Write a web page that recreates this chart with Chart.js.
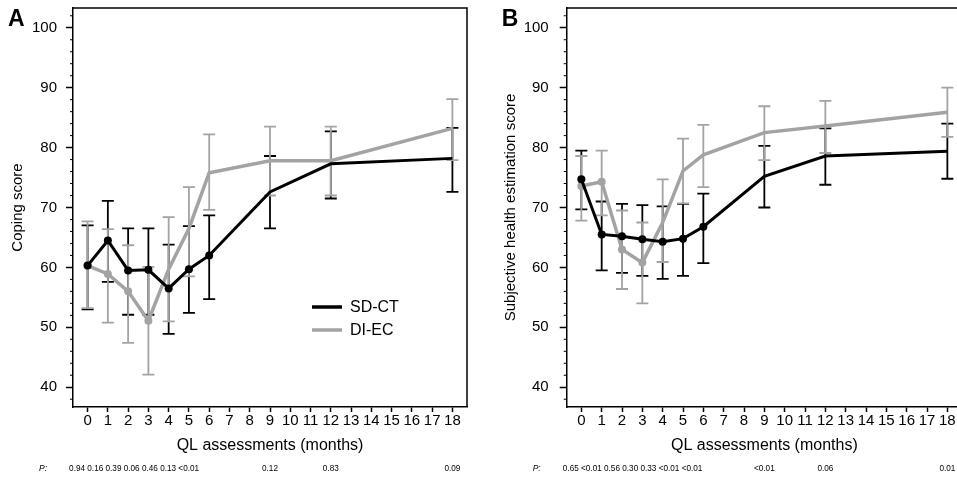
<!DOCTYPE html>
<html>
<head>
<meta charset="utf-8">
<script src="https://cdn.jsdelivr.net/npm/chart.js@4"></script>
<style>
  html, body { margin: 0; padding: 0; background: #fff; overflow: hidden; }
  body { width: 957px; height: 480px; position: relative; }
  .panel { position: absolute; top: 0; height: 480px; }
  #wrapA { left: 0; width: 478px; }
  #wrapB { left: 478px; width: 490px; }
</style>
</head>
<body>
<div class="panel" id="wrapA"><canvas id="chartA"></canvas></div>
<div class="panel" id="wrapB"><canvas id="chartB"></canvas></div>
<script>
const FONT = '"Liberation Sans", Arial, sans-serif';
const BLACK = '#000000';
const GREY = '#a3a3a3';

// months where QL was assessed
const months = [0, 1, 2, 3, 4, 5, 6, 9, 12, 18];
const monthTicks = [0, 1, 2, 3, 4, 5, 6, 7, 8, 9, 10, 11, 12, 13, 14, 15, 16, 17, 18];
const scoreTicks = [40, 50, 60, 70, 80, 90, 100];

// panel A - coping score
const copingSdct = [60.3, 64.5, 59.5, 59.6, 56.5, 59.7, 62.0, 72.6, 77.3, 78.2];
const copingSdctLow = [53.0, 57.6, 52.1, 52.1, 48.9, 52.4, 54.7, 66.5, 71.5, 72.6];
const copingSdctHigh = [67.0, 71.1, 66.5, 66.5, 63.8, 66.9, 68.7, 78.6, 82.7, 83.3];
const copingDiec = [60.3, 58.9, 56.0, 51.1, 59.7, 66.5, 75.8, 77.8, 77.8, 83.2];
const copingDiecLow = [53.2, 50.8, 47.4, 42.1, 51.0, 58.5, 69.6, 72.0, 72.0, 77.9];
const copingDiecHigh = [67.7, 66.4, 63.7, 60.1, 68.4, 73.4, 82.2, 83.5, 83.5, 88.1];
const copingP = ['0.94', '0.16', '0.39', '0.06', '0.46', '0.13', '<0.01', '0.12', '0.83', '0.09'];

// panel B - subjective health estimation score
const healthSdct = [74.7, 65.5, 65.2, 64.7, 64.3, 64.8, 66.8, 75.2, 78.6, 79.4];
const healthSdctLow = [69.7, 59.5, 59.1, 58.6, 58.1, 58.6, 60.7, 70.0, 73.8, 74.8];
const healthSdctHigh = [79.5, 71.0, 70.6, 70.4, 70.2, 70.6, 72.3, 80.3, 83.2, 84.0];
const healthDiec = [73.6, 74.3, 63.0, 60.8, 67.5, 76.1, 78.8, 82.5, 83.6, 85.9];
const healthDiecLow = [67.8, 68.7, 56.4, 54.0, 60.9, 70.7, 73.4, 77.9, 79.1, 81.8];
const healthDiecHigh = [78.6, 79.5, 69.5, 67.5, 74.7, 81.5, 83.8, 86.9, 87.8, 90.0];
const healthP = ['0.65', '<0.01', '0.56', '0.30', '0.33', '<0.01', '<0.01', '<0.01', '0.06', '0.01'];

function toPoints(values) {
  return months.map((m, i) => ({ x: m, y: values[i] }));
}

function makePanel(canvasId, panel) {
  const extras = {
    id: 'extras_' + canvasId,
    beforeDatasetsDraw(chart) {
      const { ctx, chartArea: area, scales: { x, y } } = chart;
      // error bars, black first then grey on top
      panel.bars.forEach(b => {
        ctx.save();
        ctx.strokeStyle = b.color;
        ctx.lineWidth = 1.8;
        months.forEach((m, i) => {
          const px = x.getPixelForValue(m);
          const lo = y.getPixelForValue(b.low[i]);
          const hi = y.getPixelForValue(b.high[i]);
          ctx.beginPath();
          ctx.moveTo(px, lo); ctx.lineTo(px, hi);
          ctx.moveTo(px - 6, lo); ctx.lineTo(px + 6, lo);
          ctx.moveTo(px - 6, hi); ctx.lineTo(px + 6, hi);
          ctx.stroke();
        });
        ctx.restore();
      });
      // top and right of the box
      ctx.save();
      ctx.strokeStyle = BLACK;
      ctx.lineWidth = 1.5;
      ctx.beginPath();
      ctx.moveTo(area.left, area.top);
      ctx.lineTo(area.right, area.top);
      ctx.lineTo(area.right, area.bottom);
      ctx.stroke();
      // minor ticks on the y axis
      ctx.lineWidth = 1;
      for (let v = 38; v <= 102; v += 2) {
        if (v % 10 === 0) continue;
        const py = y.getPixelForValue(v);
        ctx.beginPath();
        ctx.moveTo(area.left - 3, py);
        ctx.lineTo(area.left, py);
        ctx.stroke();
      }
      ctx.restore();
    },
    afterDraw(chart) {
      const { ctx, chartArea: area, scales: { x } } = chart;
      ctx.save();
      ctx.fillStyle = BLACK;
      // panel letter
      ctx.font = 'bold 23px ' + FONT;
      ctx.textAlign = 'left';
      ctx.textBaseline = 'middle';
      ctx.fillText(panel.letter, area.left - 65, 20);
      // P values row
      const rowY = 469;
      ctx.font = 'italic 8.5px ' + FONT;
      ctx.fillText('P:', area.left - 34, rowY);
      ctx.font = '8.2px ' + FONT;
      const early = panel.pValues.filter((p, i) => months[i] <= 6).join(' ');
      ctx.fillText(early, x.getPixelForValue(0) - 18.5, rowY);
      ctx.textAlign = 'center';
      months.forEach((m, i) => {
        if (m > 6) ctx.fillText(panel.pValues[i], x.getPixelForValue(m), rowY);
      });
      // legend inside the plot
      if (panel.legend) {
        chart.data.datasets.forEach((ds, i) => {
          const ly = area.top + 299 + i * 23;
          ctx.strokeStyle = ds.borderColor;
          ctx.lineWidth = 3.5;
          ctx.beginPath();
          ctx.moveTo(area.left + 239, ly);
          ctx.lineTo(area.left + 269, ly);
          ctx.stroke();
          ctx.font = '16px ' + FONT;
          ctx.textAlign = 'left';
          ctx.fillText(ds.label, area.left + 277, ly + 1);
        });
      }
      ctx.restore();
    }
  };

  return new Chart(document.getElementById(canvasId), {
    type: 'line',
    data: {
      datasets: [
        {
          label: 'SD-CT',
          data: toPoints(panel.sdct),
          borderColor: BLACK,
          backgroundColor: BLACK,
          borderWidth: 3,
          pointRadius: [4, 4, 4, 4, 4, 4, 4, 0, 0, 0],
          pointBorderWidth: 0,
          tension: 0
        },
        {
          label: 'DI-EC',
          data: toPoints(panel.diec),
          borderColor: GREY,
          backgroundColor: GREY,
          borderWidth: 3.5,
          pointRadius: [4, 4, 4, 4, 0, 0, 0, 0, 0, 0],
          pointBorderWidth: 0,
          tension: 0
        }
      ]
    },
    options: {
      responsive: true,
      maintainAspectRatio: false,
      animation: false,
      layout: { padding: panel.padding },
      plugins: { legend: { display: false }, tooltip: { enabled: false } },
      scales: {
        x: {
          type: 'linear',
          min: -0.72,
          max: 18.72,
          afterBuildTicks: s => { s.ticks = monthTicks.map(v => ({ value: v })); },
          afterFit: s => { s.height = 51; s.paddingLeft = 0; s.paddingRight = 0; },
          grid: { drawOnChartArea: false, tickLength: 5, tickColor: BLACK, tickWidth: 1.5 },
          border: { color: BLACK, width: 1.5 },
          ticks: { color: BLACK, font: { family: FONT, size: 15 }, padding: 0, autoSkip: false, maxRotation: 0 },
          title: { display: true, text: 'QL assessments (months)', color: BLACK, font: { family: FONT, size: 16 }, padding: { top: 0, bottom: 3 } }
        },
        y: {
          type: 'linear',
          min: 36.7,
          max: 103.3,
          afterBuildTicks: s => { s.ticks = scoreTicks.map(v => ({ value: v })); },
          afterFit: s => { s.width = panel.yWidth; s.paddingTop = 0; s.paddingBottom = 0; },
          grid: { drawOnChartArea: false, tickLength: 7, tickColor: BLACK, tickWidth: 1.5 },
          border: { color: BLACK, width: 1.5 },
          ticks: { color: BLACK, font: { family: FONT, size: 15 }, padding: panel.yPad },
          title: { display: true, text: panel.yTitle, color: BLACK, font: { family: FONT, size: 15 }, padding: { top: panel.yTitlePad, bottom: 0 } }
        }
      }
    },
    plugins: [extras]
  });
}

makePanel('chartA', {
  letter: 'A',
  yTitle: 'Coping score',
  sdct: copingSdct,
  diec: copingDiec,
  bars: [
    { color: BLACK, low: copingSdctLow, high: copingSdctHigh },
    { color: GREY, low: copingDiecLow, high: copingDiecHigh }
  ],
  pValues: copingP,
  legend: true,
  padding: { left: 0, right: 11, top: 8, bottom: 22 },
  yWidth: 73,
  yPad: 9,
  yTitlePad: 9
});

makePanel('chartB', {
  letter: 'B',
  yTitle: 'Subjective health estimation score',
  sdct: healthSdct,
  diec: healthDiec,
  bars: [
    { color: BLACK, low: healthSdctLow, high: healthSdctHigh },
    { color: GREY, low: healthDiecLow, high: healthDiecHigh }
  ],
  pValues: healthP,
  legend: false,
  padding: { left: 0, right: 6, top: 8, bottom: 22 },
  yWidth: 88.7,
  yPad: 11,
  yTitlePad: 24
});
</script>
</body>
</html>
